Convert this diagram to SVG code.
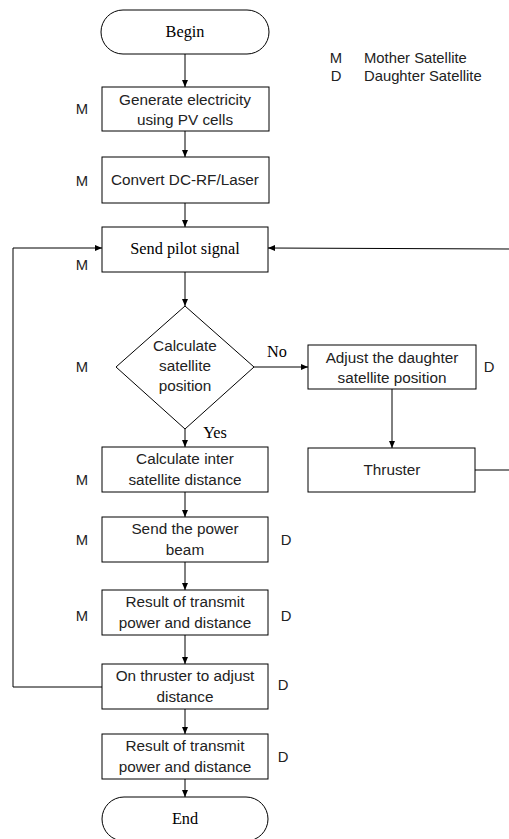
<svg xmlns="http://www.w3.org/2000/svg" width="509" height="839" viewBox="0 0 509 839">
<defs>
<marker id="ah" markerWidth="8" markerHeight="8" refX="7" refY="4" orient="auto" markerUnits="userSpaceOnUse">
<path d="M0,1 L7,4 L0,7 Z" fill="#000"/>
</marker>
<style>
.b{fill:#fff;stroke:#000;stroke-width:1}
.s{font-family:"Liberation Sans",Arial,sans-serif;font-size:15.3px;fill:#222;text-anchor:middle}
.r{font-family:"Liberation Serif","Times New Roman",serif;font-size:16.3px;fill:#000;text-anchor:middle}
.l{font-family:"Liberation Sans",Arial,sans-serif;font-size:14.8px;fill:#222;text-anchor:middle}
.c{fill:none;stroke:#000;stroke-width:1}
</style>
</defs>
<rect width="509" height="839" fill="#fff"/>
<g id="legend">
<text x="336" y="63" class="l">M</text><text x="364" y="63" class="l" style="text-anchor:start">Mother Satellite</text>
<text x="336" y="81" class="l">D</text><text x="364" y="81" class="l" style="text-anchor:start">Daughter Satellite</text>
</g>
<g id="connectors">
<line x1="185" y1="54" x2="185" y2="87" class="c" marker-end="url(#ah)"/>
<line x1="185" y1="131" x2="185" y2="157" class="c" marker-end="url(#ah)"/>
<line x1="185" y1="203" x2="185" y2="227" class="c" marker-end="url(#ah)"/>
<line x1="185" y1="272" x2="185" y2="306" class="c" marker-end="url(#ah)"/>
<line x1="254" y1="367" x2="308" y2="367" class="c" marker-end="url(#ah)"/>
<line x1="392" y1="389" x2="392" y2="448" class="c" marker-end="url(#ah)"/>
<polyline points="475,470 509,470" class="c"/>
<line x1="509" y1="249" x2="268" y2="248" class="c" marker-end="url(#ah)"/>
<line x1="185" y1="429" x2="185" y2="447" class="c" marker-end="url(#ah)"/>
<line x1="185" y1="492" x2="185" y2="517" class="c" marker-end="url(#ah)"/>
<line x1="185" y1="562" x2="185" y2="590" class="c" marker-end="url(#ah)"/>
<line x1="185" y1="635" x2="185" y2="664" class="c" marker-end="url(#ah)"/>
<polyline points="102,687 13,687 13,248 102,248" class="c" marker-end="url(#ah)"/>
<line x1="185" y1="709" x2="185" y2="734" class="c" marker-end="url(#ah)"/>
<line x1="185" y1="779" x2="185" y2="797" class="c" marker-end="url(#ah)"/>
<text x="277" y="357" class="r">No</text>
<text x="215" y="438" class="r">Yes</text>
</g>
<g id="begin"><rect x="101" y="10" width="168" height="44" rx="22" class="b"/><text x="185" y="37" class="r">Begin</text></g>
<g id="generate"><rect x="102" y="87" width="167" height="44" class="b"/><text x="185" y="105" class="s">Generate electricity</text><text x="185" y="125" class="s">using PV cells</text><text x="82" y="114" class="l">M</text></g>
<g id="convert"><rect x="102" y="157" width="167" height="46" class="b"/><text x="185" y="185" class="s">Convert DC-RF/Laser</text><text x="82" y="186" class="l">M</text></g>
<g id="pilot"><rect x="102" y="227" width="166" height="45" class="b"/><text x="185" y="254" class="r">Send pilot  signal</text><text x="82" y="270" class="l">M</text></g>
<g id="decision"><polygon points="185,306 254,367 185,429 116,367" class="b"/><text x="185" y="351" class="s">Calculate</text><text x="185" y="371" class="s">satellite</text><text x="185" y="391" class="s">position</text><text x="82" y="372" class="l">M</text></g>
<g id="adjust"><rect x="308" y="345" width="168" height="44" class="b"/><text x="392" y="363" class="s">Adjust the daughter</text><text x="392" y="383" class="s">satellite position</text><text x="489" y="372" class="l">D</text></g>
<g id="thruster"><rect x="308" y="448" width="167" height="44" class="b"/><text x="392" y="475" class="s">Thruster</text></g>
<g id="interdist"><rect x="102" y="447" width="166" height="45" class="b"/><text x="185" y="464" class="s">Calculate inter</text><text x="185" y="485" class="s">satellite distance</text><text x="82" y="485" class="l">M</text></g>
<g id="beam"><rect x="102" y="517" width="166" height="45" class="b"/><text x="185" y="534" class="s">Send the power</text><text x="185" y="555" class="s">beam</text><text x="82" y="545" class="l">M</text><text x="286" y="545" class="l">D</text></g>
<g id="result1"><rect x="102" y="590" width="166" height="45" class="b"/><text x="185" y="607" class="s">Result of transmit</text><text x="185" y="628" class="s">power and distance</text><text x="82" y="621" class="l">M</text><text x="286" y="621" class="l">D</text></g>
<g id="onthruster"><rect x="102" y="664" width="166" height="45" class="b"/><text x="185" y="681" class="s">On thruster to adjust</text><text x="185" y="702" class="s">distance</text><text x="283" y="690" class="l">D</text></g>
<g id="result2"><rect x="102" y="734" width="166" height="45" class="b"/><text x="185" y="751" class="s">Result of transmit</text><text x="185" y="772" class="s">power and distance</text><text x="283" y="762" class="l">D</text></g>
<g id="end"><rect x="102" y="797" width="166" height="44" rx="22" class="b"/><text x="185" y="824" class="r">End</text></g>
</svg>
